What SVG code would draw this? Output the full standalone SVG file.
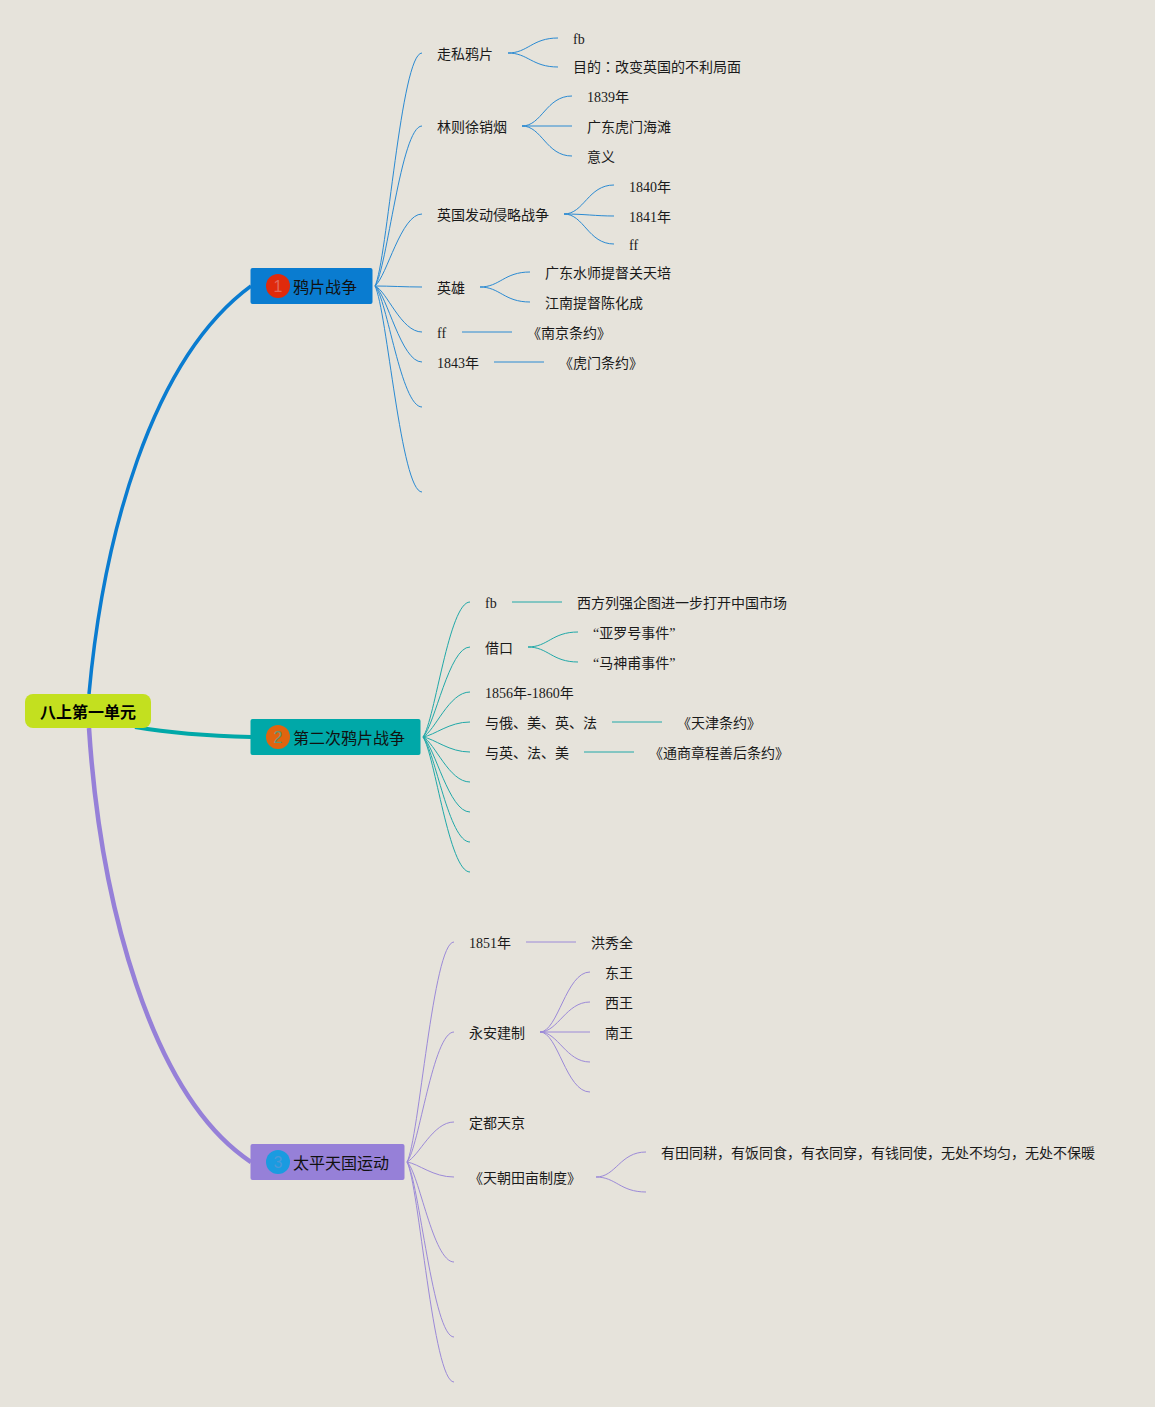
<svg xmlns="http://www.w3.org/2000/svg" width="1155" height="1407" viewBox="0 0 1155 1407">
<style>
text{font-family:"Liberation Serif","Noto Sans CJK SC",serif;font-size:14px;fill:#1a1a1a}
.t{font-size:16px;font-family:"Noto Sans CJK SC","Liberation Sans",sans-serif;fill:#111}
.r{font-size:16px;font-weight:700;font-family:"Noto Sans CJK SC","Liberation Sans",sans-serif;fill:#000}
.n{font-size:16px;font-family:"Liberation Sans",sans-serif;text-anchor:middle}
path{fill:none}
.b1{stroke:#2a8ad2;stroke-width:1}
.b2{stroke:#20a8a8;stroke-width:1}
.b3{stroke:#9c8ad8;stroke-width:1}
</style>
<rect width="1155" height="1407" fill="#e6e3db"/>
<g id="connectors">
<path d="M89 694C103 540 150 360 251 286" stroke="#0a7cd0" stroke-width="3.500"/>
<path d="M135 727C170 733 210 736 251 737" stroke="#00a8a8" stroke-width="4"/>
<path d="M89 728C100 900 150 1095 251 1162" stroke="#9680d8" stroke-width="4.500"/>
<g class="b1">
<path d="M375 286C387 262 401 53 422 53"/>
<path d="M375 286C387 270 401 126 422 126"/>
<path d="M375 286C387 276 401 214 422 214"/>
<path d="M375 286C390 286 405 287 422 287"/>
<path d="M375 286C387 291 401 332 422 332"/>
<path d="M375 286C387 294 401 362 422 362"/>
<path d="M375 286C387 298 401 407 422 407"/>
<path d="M375 286C387 310 401 492 422 492"/>
<path d="M508 53C528 53 532 38 558 38"/>
<path d="M508 53C528 53 532 67 558 67"/>
<path d="M522 126C542 126 546 96 572 96"/>
<path d="M522 126H572"/>
<path d="M522 126C542 126 546 156 572 156"/>
<path d="M564 214C584 214 588 185 614 185"/>
<path d="M564 214C585 214 595 216 614 216"/>
<path d="M564 214C584 214 588 244 614 244"/>
<path d="M480 287C500 287 504 272 530 272"/>
<path d="M480 287C500 287 504 302 530 302"/>
<path d="M462 332H512"/>
<path d="M494 362H544"/>
</g>
<g class="b2">
<path d="M423 737C435 720 449 602 470 602"/>
<path d="M423 737C435 725 449 647 470 647"/>
<path d="M423 737C435 731 449 692 470 692"/>
<path d="M423 737C435 735 449 722 470 722"/>
<path d="M423 737C435 739 449 752 470 752"/>
<path d="M423 737C435 743 449 782 470 782"/>
<path d="M423 737C435 747 449 812 470 812"/>
<path d="M423 737C435 751 449 842 470 842"/>
<path d="M423 737C435 755 449 872 470 872"/>
<path d="M512 602H562"/>
<path d="M528 647C548 647 552 632 578 632"/>
<path d="M528 647C548 647 552 662 578 662"/>
<path d="M612 722H662"/>
<path d="M584 752H634"/>
</g>
<g class="b3">
<path d="M407 1162C419 1140 433 942 454 942"/>
<path d="M407 1162C419 1148 433 1032 454 1032"/>
<path d="M407 1162C419 1156 433 1122 454 1122"/>
<path d="M407 1162C419 1164 433 1177 454 1177"/>
<path d="M407 1162C419 1172 433 1262 454 1262"/>
<path d="M407 1162C419 1180 433 1337 454 1337"/>
<path d="M407 1162C419 1184 433 1382 454 1382"/>
<path d="M526 942H576"/>
<path d="M540 1032C558 1032 566 972 590 972"/>
<path d="M540 1032C558 1032 566 1002 590 1002"/>
<path d="M540 1032H590"/>
<path d="M540 1032C558 1032 566 1062 590 1062"/>
<path d="M540 1032C558 1032 566 1092 590 1092"/>
<path d="M596 1177C616 1177 620 1152 646 1152"/>
<path d="M596 1177C616 1177 620 1192 646 1192"/>
</g>
</g>
<g id="root"><rect x="25" y="694" width="126" height="34" rx="8" fill="#c3e01f"/><text class="r" x="40" y="718">八上第一单元</text></g>
<g id="topic1"><rect x="250.500" y="268" width="122" height="36" rx="2" fill="#0a7cd0"/><circle cx="278" cy="286" r="12" fill="#e02a0c"/><text class="n" x="278" y="292" style="fill:#e0685c">1</text><text class="t" x="293" y="293">鸦片战争</text></g>
<g id="topic2"><rect x="250.500" y="719" width="170" height="36" rx="2" fill="#00a8a8"/><circle cx="278" cy="737" r="12" fill="#e0640f"/><text class="n" x="278" y="743" style="fill:#5f9878">2</text><text class="t" x="293" y="744">第二次鸦片战争</text></g>
<g id="topic3"><rect x="250.500" y="1144" width="154" height="36" rx="2" fill="#9680d8"/><circle cx="278" cy="1162" r="12" fill="#1a9be0"/><text class="n" x="278" y="1168" style="fill:#4a98d8">3</text><text class="t" x="293" y="1169">太平天国运动</text></g>
<g id="labels1">
<text x="437" y="59">走私鸦片</text><text x="573" y="44">fb</text><text x="573" y="72">目的<tspan style="font-family:'Noto Sans CJK TC',sans-serif">：</tspan>改变英国的不利局面</text>
<text x="437" y="132">林则徐销烟</text><text x="587" y="102">1839年</text><text x="587" y="132">广东虎门海滩</text><text x="587" y="162">意义</text>
<text x="437" y="220">英国发动侵略战争</text><text x="629" y="192">1840年</text><text x="629" y="222">1841年</text><text x="629" y="250">ff</text>
<text x="437" y="293">英雄</text><text x="545" y="278">广东水师提督关天培</text><text x="545" y="308">江南提督陈化成</text>
<text x="437" y="338">ff</text><text x="527" y="338">《南京条约》</text>
<text x="437" y="368">1843年</text><text x="559" y="368">《虎门条约》</text>
</g>
<g id="labels2">
<text x="485" y="608">fb</text><text x="577" y="608">西方列强企图进一步打开中国市场</text>
<text x="485" y="653">借口</text><text x="593" y="638">“亚罗号事件”</text><text x="593" y="668">“马神甫事件”</text>
<text x="485" y="698">1856年-1860年</text>
<text x="485" y="728">与俄、美、英、法</text><text x="677" y="728">《天津条约》</text>
<text x="485" y="758">与英、法、美</text><text x="649" y="758">《通商章程善后条约》</text>
</g>
<g id="labels3">
<text x="469" y="948">1851年</text><text x="591" y="948">洪秀全</text>
<text x="469" y="1038">永安建制</text><text x="605" y="978">东王</text><text x="605" y="1008">西王</text><text x="605" y="1038">南王</text>
<text x="469" y="1128">定都天京</text>
<text x="469" y="1183">《天朝田亩制度》</text>
<text x="661" y="1158">有田同耕，有饭同食，有衣同穿，有钱同使，无处不均匀，无处不保暖</text>
</g>
</svg>
